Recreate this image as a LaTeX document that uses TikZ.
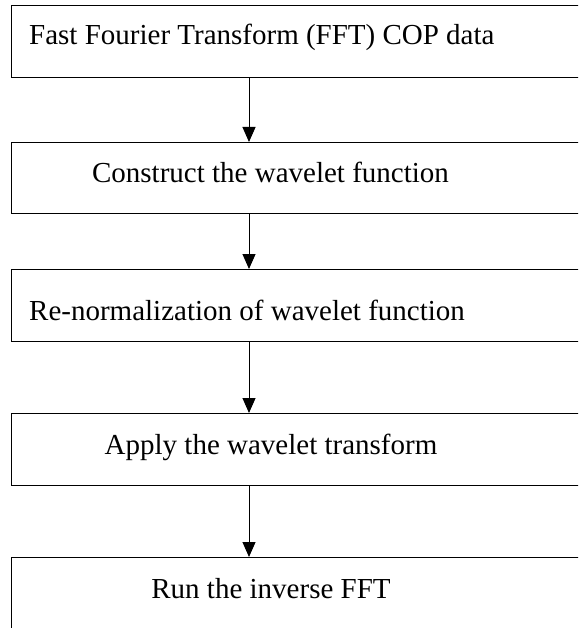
\documentclass[tikz,border=0pt]{standalone}
\usepackage{fontspec}
\setmainfont{Liberation Serif}
\usetikzlibrary{arrows.meta}
\begin{document}
\begin{tikzpicture}[x=1pt,y=-1pt,
  box/.style={draw, line width=1.3pt, rectangle, minimum width=580pt, inner sep=0pt, anchor=north west},
  lbl/.style={anchor=base, inner sep=0pt, font=\fontsize{29}{34}\selectfont},
  lbll/.style={anchor=base west, inner sep=0pt, font=\fontsize{29}{34}\selectfont},
  arr/.style={line width=1pt, -{Triangle[width=13pt,length=15pt]}}]
\useasboundingbox (0,0) rectangle (578,628);
\clip (0,0) rectangle (578,628);
\node[box, minimum height=72pt] (b1) at (10.5,5) {};
\node[box, minimum height=71pt] (b2) at (10.5,142) {};
\node[box, minimum height=72pt] (b3) at (10.5,269) {};
\node[box, minimum height=72pt] (b4) at (10.5,413) {};
\node[box, minimum height=100pt] (b5) at (10.5,557) {};
\node[lbll] (t1) at (29,45) {Fast Fourier Transform (FFT) COP data};
\node[lbl] (t2) at (270.5,183) {Construct the wavelet function};
\node[lbll] (t3) at (29,320) {Re-normalization of wavelet function};
\node[lbl] (t4) at (271,454) {Apply the wavelet transform};
\node[lbl] (t5) at (271,598) {Run the inverse FFT};
\draw[arr] ([xshift=238.5pt]b1.south west) -- ([xshift=238.5pt]b2.north west);
\draw[arr] ([xshift=238.5pt]b2.south west) -- ([xshift=238.5pt]b3.north west);
\draw[arr] ([xshift=238.5pt]b3.south west) -- ([xshift=238.5pt]b4.north west);
\draw[arr] ([xshift=238.5pt]b4.south west) -- ([xshift=238.5pt]b5.north west);
\end{tikzpicture}
\end{document}
